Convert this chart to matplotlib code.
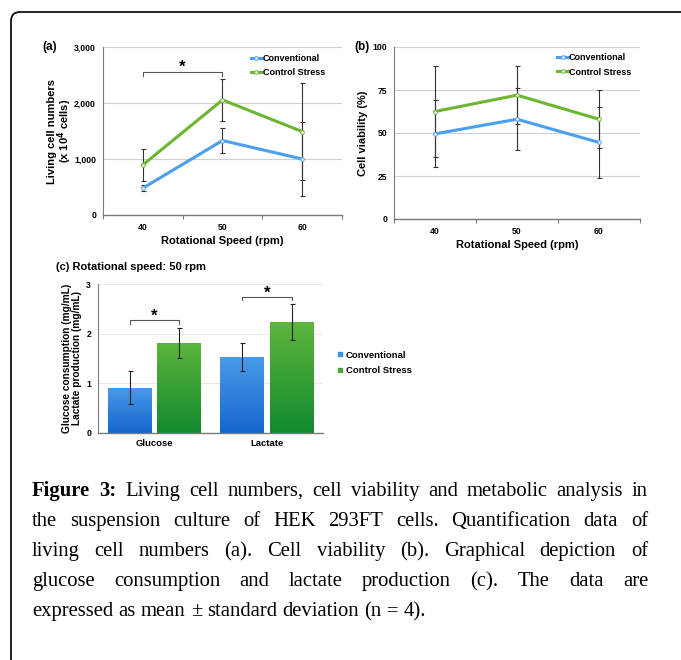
import numpy as np
import matplotlib
matplotlib.use('Agg')
import matplotlib.pyplot as plt
from matplotlib.colors import LinearSegmentedColormap
from matplotlib.patches import Rectangle, PathPatch
from matplotlib.path import Path

plt.rcParams['font.family'] = ['Liberation Sans', 'DejaVu Sans']
plt.rcParams['font.weight'] = 'bold'
plt.rcParams['axes.labelweight'] = 'bold'
plt.rcParams['mathtext.default'] = 'bf'

W, H = 681, 660

# ---- data ----
speeds = [40, 50, 60]
series = ['Conventional', 'Control Stress']

cells_conv = [480, 1330, 1000]
cells_conv_sd = [60, 230, 660]
cells_cs = [895, 2055, 1490]
cells_cs_sd = [280, 370, 870]

via_conv = [49.5, 58, 44.5]
via_conv_sd = [19.5, 18, 20.5]
via_cs = [62.5, 72, 58]
via_cs_sd = [26.5, 17, 17]

metab = ['Glucose', 'Lactate']
metab_conv = [0.91, 1.53]
metab_conv_sd = [0.33, 0.29]
metab_cs = [1.82, 2.23]
metab_cs_sd = [0.30, 0.36]

caption_lines = [
    'Figure 3: Living cell numbers, cell viability and metabolic analysis in',
    'the suspension culture of HEK 293FT cells. Quantification data of',
    'living cell numbers (a). Cell viability (b). Graphical depiction of',
    'glucose consumption and lactate production (c). The data are',
    'expressed as mean \u00b1 standard deviation (n = 4).',
]

blue = '#4a9ff0'
green = '#6cb632'
grid_c = '#d0d0d0'
spine_c = '#7a7a7a'


def px_axes(fig, left, top, right, bottom):
    return fig.add_axes([left / W, 1 - bottom / H, (right - left) / W, (bottom - top) / H])


def style_axes(ax):
    ax.spines['top'].set_visible(False)
    ax.spines['right'].set_visible(False)
    ax.spines['left'].set_color(spine_c)
    ax.spines['bottom'].set_color(spine_c)
    ax.spines['left'].set_linewidth(0.8)
    ax.spines['bottom'].set_linewidth(1.0)
    ax.tick_params(axis='y', length=0, labelsize=6.2, pad=5)
    ax.set_axisbelow(True)
    ax.yaxis.grid(True, color=grid_c, linewidth=0.8)


def line_panel(ax, conv, conv_sd, cs, cs_sd, ylim, yticks, yticklabels, leg_xy):
    style_axes(ax)
    for vals, sd, c, lab in [(conv, conv_sd, blue, series[0]), (cs, cs_sd, green, series[1])]:
        ax.errorbar(speeds, vals, yerr=sd, fmt='none', ecolor='#333333', elinewidth=0.8,
                    capsize=1.8, capthick=0.8, zorder=2)
        ax.plot(speeds, vals, color=c, lw=2.2, marker='o', ms=2.6, mfc='white', mec=c,
                mew=0.7, label=lab, zorder=3)
    ax.set_xlim(35, 65)
    ax.set_ylim(*ylim)
    ax.set_xticks(speeds)
    ax.set_xticklabels([str(s) for s in speeds])
    ax.set_xticks([35, 45, 55, 65], minor=True)
    ax.tick_params(axis='x', which='major', length=0, labelsize=6.2, pad=6)
    ax.tick_params(axis='x', which='minor', length=3, color=spine_c, width=0.8)
    ax.set_yticks(yticks)
    ax.set_yticklabels(yticklabels)
    ax.set_xlabel('Rotational Speed (rpm)', fontsize=8, labelpad=3)
    ax.legend(loc='upper left', bbox_to_anchor=leg_xy, frameon=False, fontsize=6.5,
              handlelength=1.3, handletextpad=0.05, labelspacing=0.6, borderaxespad=0.0,
              borderpad=0.2)


fig = plt.figure(figsize=(W / 100, H / 100), dpi=100)

# ---- (a) living cell numbers ----
ax_a = px_axes(fig, 103, 47, 342, 215)
line_panel(ax_a, cells_conv, cells_conv_sd, cells_cs, cells_cs_sd, (0, 3000),
           [0, 1000, 2000, 3000], ['0', '1,000', '2,000', '3,000'], (0.61, 0.97))
ax_a.set_ylabel('Living cell numbers\n(x 10$^{4}$ cells)', fontsize=8, labelpad=0,
                linespacing=0.85)
ax_a.plot([40, 40, 50, 50], [2480, 2546, 2546, 2480], color='#555555', lw=0.8)
ax_a.text(45, 2510, '*', ha='center', va='bottom', fontsize=12)
fig.text(42 / W, 1 - 47 / H, '(a)', fontsize=8.5, ha='left', va='center')

# ---- (b) cell viability ----
ax_b = px_axes(fig, 394, 47, 640, 219)
line_panel(ax_b, via_conv, via_conv_sd, via_cs, via_cs_sd, (0, 100),
           [0, 25, 50, 75, 100], ['0', '25', '50', '75', '100'], (0.655, 0.975))
ax_b.set_ylabel('Cell viability (%)', fontsize=8, labelpad=3)
fig.text(354 / W, 1 - 47 / H, '(b)', fontsize=8.5, ha='left', va='center')

# ---- (c) metabolic analysis ----
ax_c = px_axes(fig, 98, 284, 323, 433)
style_axes(ax_c)
ax_c.yaxis.grid(True, color='#f0e6e0', linewidth=0.8)
xc = np.arange(len(metab))
bw = 0.39
off = 0.22
cmap_b = LinearSegmentedColormap.from_list('b', ['#1566cc', '#58abf2'])
cmap_g = LinearSegmentedColormap.from_list('g', ['#128a2e', '#74c240'])
grad = np.linspace(0, 1, 256).reshape(-1, 1)
for vals, sd, pos, cm in [(metab_conv, metab_conv_sd, xc - off, cmap_b),
                          (metab_cs, metab_cs_sd, xc + off, cmap_g)]:
    bars = ax_c.bar(pos, vals, width=bw, color='none', edgecolor='none', zorder=2)
    for b in bars:
        x0, y0 = b.get_x(), b.get_y()
        im = ax_c.imshow(grad, cmap=cm, origin='lower', aspect='auto', zorder=2,
                         extent=[x0, x0 + b.get_width(), 0, b.get_height() * 1.3])
        rect = Rectangle((x0, y0), b.get_width(), b.get_height(), transform=ax_c.transData)
        im.set_clip_path(rect)
    ax_c.errorbar(pos, vals, yerr=sd, fmt='none', ecolor='#222222', elinewidth=0.8,
                  capsize=1.8, capthick=0.8, zorder=4)
ax_c.set_xlim(-0.5, 1.5)
ax_c.set_ylim(0, 3)
ax_c.set_yticks([0, 1, 2, 3])
ax_c.set_xticks(xc)
ax_c.set_xticklabels(metab)
ax_c.tick_params(axis='x', length=0, labelsize=6.8, pad=4)
ax_c.set_ylabel('Glucose consumption (mg/mL)\nLactate production (mg/mL)', fontsize=7.3,
                labelpad=3, linespacing=1.0)
# significance brackets
for i, yb in [(0, 2.27), (1, 2.74)]:
    ax_c.plot([i - off, i - off, i + off, i + off], [yb - 0.07, yb, yb, yb - 0.07],
              color='#555555', lw=0.8)
    ax_c.text(i, yb - 0.08, '*', ha='center', va='bottom', fontsize=12)
handles = [plt.Line2D([], [], ls='none', marker='s', ms=3, color='#3b8fe6'),
           plt.Line2D([], [], ls='none', marker='s', ms=3, color='#4aa63a')]
fig.legend(handles, series, loc='center left', bbox_to_anchor=(329 / W, 1 - 363 / H),
           frameon=False, fontsize=6.8, handlelength=0.6, handletextpad=0.3,
           labelspacing=0.7)
fig.text(56 / W, 1 - 267 / H, '(c) Rotational speed: 50 rpm', fontsize=8, ha='left',
         va='center')

# ---- frame (rounded top-left corner only) ----
rad = 9
verts = [(W + 5, 12), (11 + rad, 12), (11, 12), (11, 12 + rad), (11, H + 5)]
verts = [(x / W, 1 - y / H) for x, y in verts]
codes = [Path.MOVETO, Path.LINETO, Path.CURVE3, Path.CURVE3, Path.LINETO]
fig.add_artist(PathPatch(Path(verts, codes), transform=fig.transFigure, fill=False,
                         lw=1.3, ec='#111111'))

# ---- caption (justified) ----
r = fig.canvas.get_renderer()
x_left, x_right = 32, 648
baselines = [496, 526, 556, 586, 616]
# size so that the first line fits with normal spacing
probe = fig.text(0, 0, caption_lines[0], fontsize=10, family='Liberation Serif')
cap_size = 10 * (x_right - x_left) / probe.get_window_extent(r).width * 0.99
probe.remove()
for li, line in enumerate(caption_lines):
    words = line.split(' ')
    objs = []
    for wi, wd in enumerate(words):
        bold = li == 0 and wi < 2
        t = fig.text(0, 1 - baselines[li] / H, wd, fontsize=cap_size, va='baseline',
                     family='Liberation Serif', weight='bold' if bold else 'normal')
        objs.append(t)
    widths = [t.get_window_extent(r).width for t in objs]
    if li == len(caption_lines) - 1:
        gap = cap_size * 0.25 * 100 / 72
    else:
        gap = (x_right - x_left - sum(widths)) / (len(words) - 1)
    x = x_left
    for t, wdt in zip(objs, widths):
        t.set_x(x / W)
        x += wdt + gap

fig.savefig('out.png', dpi=100)
